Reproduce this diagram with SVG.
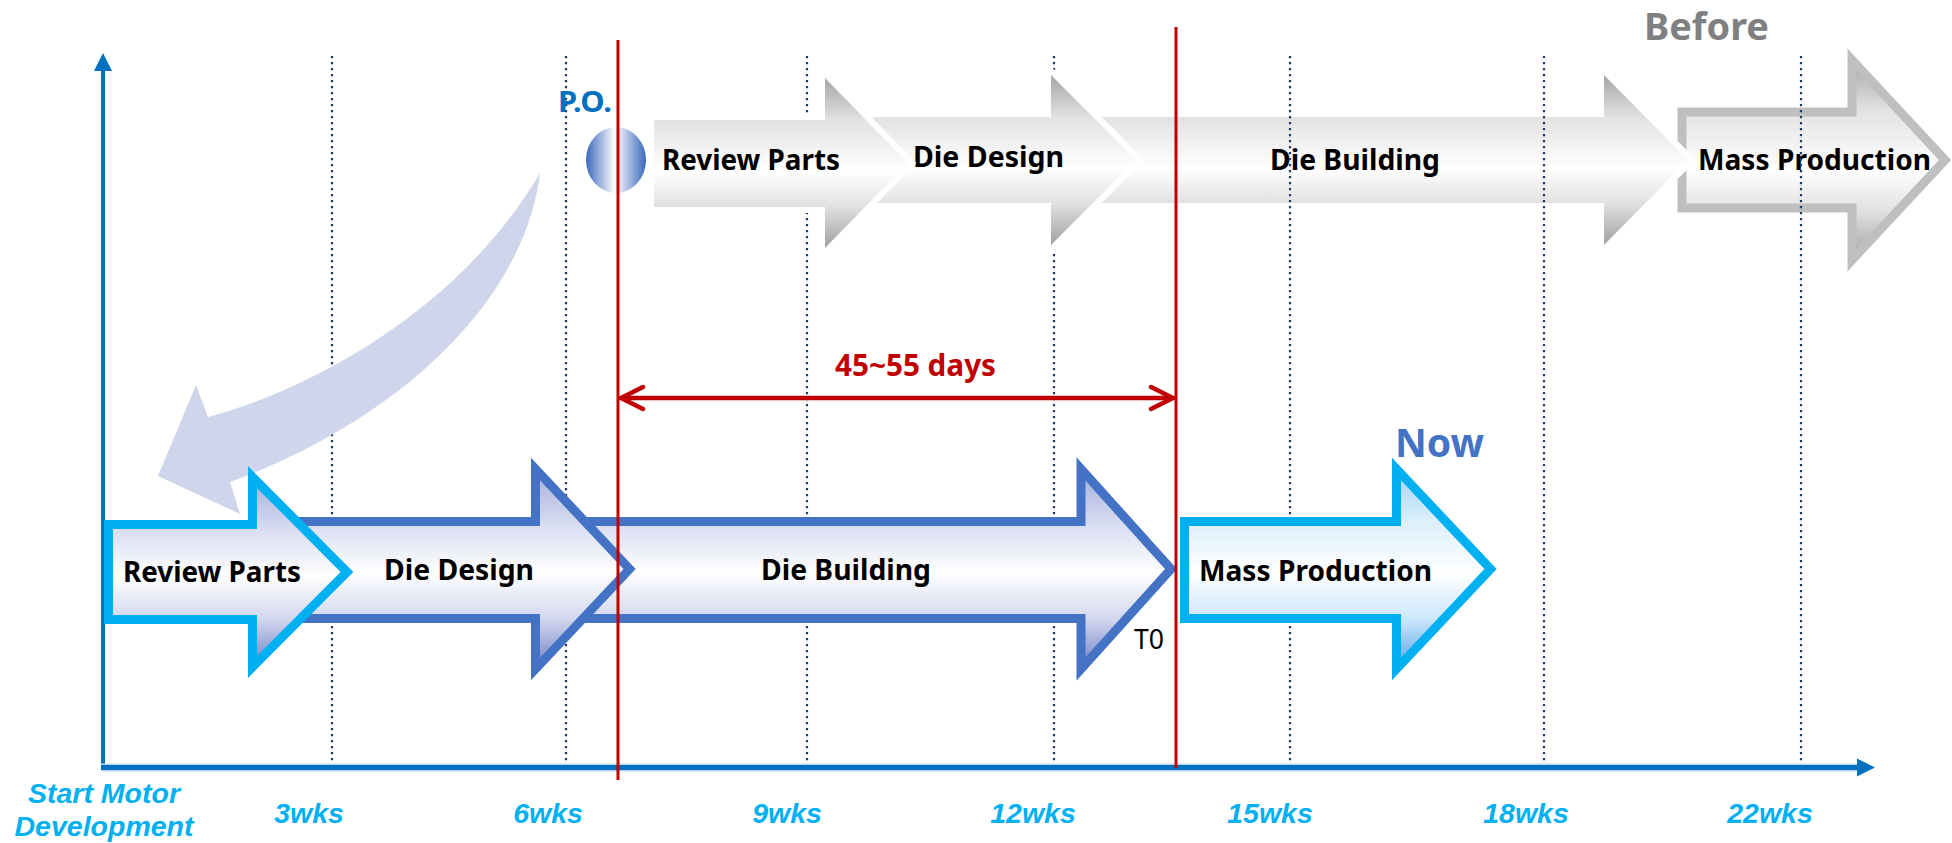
<svg xmlns="http://www.w3.org/2000/svg" width="1952" height="843" viewBox="0 0 1952 843">
  <style>
    .lbl { font-family: "Noto Sans", "Open Sans", "Noto Sans CJK KR", sans-serif; font-weight: 700; font-size: 28px; fill: #000000; }
    .wk { font-family: "Liberation Sans", Arial, sans-serif; font-weight: 700; font-style: italic; font-size: 28.5px; fill: #00B0F0; text-anchor: middle; }
    .grid { stroke: #1F3864; stroke-width: 2.2; stroke-dasharray: 2.2 3.8; fill: none; }
    .gray { fill: url(#gGray); stroke: #FFFFFF; stroke-width: 12; stroke-linejoin: miter; paint-order: stroke; }
    .now { stroke-width: 9; stroke-linejoin: miter; stroke-miterlimit: 10; }
    .red { stroke: #C00000; fill: none; }
  </style>
  <defs>
    <linearGradient id="gGray" x1="0" y1="0" x2="0" y2="1">
      <stop offset="0" stop-color="#A5A5A5"/>
      <stop offset="0.25" stop-color="#E2E2E2"/>
      <stop offset="0.55" stop-color="#FFFFFF"/>
      <stop offset="0.76" stop-color="#E0E0E0"/>
      <stop offset="1" stop-color="#A0A0A0"/>
    </linearGradient>
    <linearGradient id="gLav" x1="0" y1="0" x2="0" y2="1">
      <stop offset="0" stop-color="#A3ADDD"/>
      <stop offset="0.26" stop-color="#D5DAEF"/>
      <stop offset="0.52" stop-color="#FFFFFF"/>
      <stop offset="0.75" stop-color="#D2D7EE"/>
      <stop offset="1" stop-color="#6F7DC5"/>
    </linearGradient>
    <linearGradient id="gSky" x1="0" y1="0" x2="0" y2="1">
      <stop offset="0" stop-color="#9ED3F5"/>
      <stop offset="0.26" stop-color="#DCEFFB"/>
      <stop offset="0.52" stop-color="#FFFFFF"/>
      <stop offset="0.75" stop-color="#CDE7FA"/>
      <stop offset="1" stop-color="#4DA2E4"/>
    </linearGradient>
    <linearGradient id="gPO" x1="0" y1="0" x2="1" y2="0">
      <stop offset="0" stop-color="#3A68BC"/>
      <stop offset="0.48" stop-color="#FFFFFF"/>
      <stop offset="1" stop-color="#3A68BC"/>
    </linearGradient>
    <!-- open chevron head for the duration span -->
    <marker id="chev" viewBox="0 0 30 30" refX="27" refY="15" markerWidth="30" markerHeight="30" markerUnits="userSpaceOnUse" orient="auto-start-reverse">
      <path d="M5,4 L27,15 L5,26" fill="none" stroke="#C00000" stroke-width="4.5" stroke-linecap="round" stroke-linejoin="miter"/>
    </marker>
  </defs>

  <!-- axes -->
  <g id="axes">
    <line x1="103" y1="768" x2="103" y2="68" stroke="#0070C0" stroke-width="4"/>
    <polygon points="103,53 94,71 112,71" fill="#0070C0"/>
    <line x1="101" y1="767.5" x2="1860" y2="767.5" stroke="#BDD7EE" stroke-width="8"/>
    <line x1="101" y1="767.5" x2="1860" y2="767.5" stroke="#0070C0" stroke-width="5"/>
    <polygon points="1875,767.5 1857,758.5 1857,776.5" fill="#0070C0"/>
  </g>

  <!-- "Before" chain, rear part -->
  <g id="before-mass-production">
    <path d="M1682,112 H1852 V60 L1945,160 L1852,260 V208 H1682 Z" fill="url(#gGray)" stroke="#BFBFBF" stroke-width="9" stroke-linejoin="miter" stroke-miterlimit="10"/>
    <text class="lbl" x="1698" y="170" textLength="233" lengthAdjust="spacingAndGlyphs">Mass Production</text>
  </g>
  <g id="before-die-building">
    <path class="gray" d="M1065,117 H1604 V75 L1688,160 L1604,245 V203 H1065 Z"/>
    <text class="lbl" x="1270" y="170" textLength="170" lengthAdjust="spacingAndGlyphs">Die Building</text>
  </g>

  <!-- week grid -->
  <g id="grid">
    <line class="grid" x1="332" y1="56" x2="332" y2="763"/>
    <line class="grid" x1="566" y1="56" x2="566" y2="763"/>
    <line class="grid" x1="807" y1="56" x2="807" y2="763"/>
    <line class="grid" x1="1054" y1="56" x2="1054" y2="763"/>
    <line class="grid" x1="1290" y1="56" x2="1290" y2="763"/>
    <line class="grid" x1="1544" y1="56" x2="1544" y2="763"/>
    <line class="grid" x1="1801" y1="56" x2="1801" y2="763"/>
  </g>

  <!-- "Before" chain, front part -->
  <g id="before-die-design">
    <path class="gray" d="M840,117 H1051 V75 L1136,160 L1051,245 V203 H840 Z"/>
    <text class="lbl" x="913" y="167" textLength="151" lengthAdjust="spacingAndGlyphs">Die Design</text>
  </g>
  <g id="before-review-parts">
    <path class="gray" d="M654,120 H825 V78 L908,163 L825,248 V207 H654 Z"/>
    <text class="lbl" x="662" y="170" textLength="178" lengthAdjust="spacingAndGlyphs">Review Parts</text>
  </g>

  <!-- purchase order marker -->
  <g id="po">
    <ellipse cx="616" cy="160" rx="30" ry="33" fill="url(#gPO)"/>
    <text class="lbl" x="558" y="112" style="fill:#0070C0" textLength="54" lengthAdjust="spacingAndGlyphs">P.O.</text>
  </g>

  <!-- lead time shift -->
  <g id="shift-arrow">
    <path d="M540,173 C525,300 400,420 230,482 L240,514 L158,476 L196,385 L208,417 C310,390 460,310 540,173 Z" fill="#CFD5EA"/>
  </g>

  <!-- "Now" chain -->
  <g id="now-mass-production">
    <path class="now" d="M1184.5,521.5 H1396.5 V469 L1490.5,569 L1396.5,669 V618.5 H1184.5 Z" fill="url(#gSky)" stroke="#00B0F0"/>
    <text class="lbl" x="1199" y="581" textLength="233" lengthAdjust="spacingAndGlyphs">Mass Production</text>
  </g>
  <g id="now-die-building">
    <path class="now" d="M545,521.5 H1081 V469 L1171,569 L1081,669 V618.5 H545 Z" fill="url(#gLav)" stroke="#4472C4"/>
    <text class="lbl" x="761" y="580" textLength="170" lengthAdjust="spacingAndGlyphs">Die Building</text>
    <text x="1134" y="649" font-family="Noto Sans, Open Sans, sans-serif" font-size="27" fill="#000000" textLength="30" lengthAdjust="spacingAndGlyphs">T0</text>
  </g>
  <g id="now-die-design">
    <path class="now" d="M262,521.5 H535.5 V469 L629.5,569 L535.5,669 V618.5 H262 Z" fill="url(#gLav)" stroke="#4472C4"/>
    <text class="lbl" x="384" y="580" textLength="150" lengthAdjust="spacingAndGlyphs">Die Design</text>
  </g>
  <g id="now-review-parts">
    <path class="now" d="M108.5,524.5 H252.5 V477 L347,572 L252.5,667 V619.5 H108.5 Z" fill="url(#gLav)" stroke="#00B0F0"/>
    <text class="lbl" x="123" y="582" textLength="178" lengthAdjust="spacingAndGlyphs">Review Parts</text>
  </g>

  <!-- connectors: tooling window markers -->
  <g id="connectors">
    <line class="red" x1="618" y1="40" x2="618" y2="780" stroke-width="3"/>
    <line class="red" x1="1176" y1="27" x2="1176" y2="768" stroke-width="3"/>
    <line class="red" x1="621" y1="398" x2="1173" y2="398" stroke-width="4.5" marker-start="url(#chev)" marker-end="url(#chev)"/>
  </g>

  <!-- headings -->
  <text class="lbl" x="1644" y="40" style="font-size:37.5px;fill:#808080" textLength="125" lengthAdjust="spacingAndGlyphs">Before</text>
  <text class="lbl" x="1395" y="457" style="font-size:40px;fill:#4472C4" textLength="89" lengthAdjust="spacingAndGlyphs">Now</text>
  <text class="lbl" x="835" y="376" style="font-size:29.5px;fill:#C00000" textLength="161" lengthAdjust="spacingAndGlyphs">45~55 days</text>

  <!-- time scale -->
  <g id="scale">
    <text class="wk" x="104" y="803">Start Motor</text>
    <text class="wk" x="104" y="836">Development</text>
    <text class="wk" x="309" y="823">3wks</text>
    <text class="wk" x="548" y="823">6wks</text>
    <text class="wk" x="787" y="823">9wks</text>
    <text class="wk" x="1033" y="823">12wks</text>
    <text class="wk" x="1270" y="823">15wks</text>
    <text class="wk" x="1526" y="823">18wks</text>
    <text class="wk" x="1770" y="823">22wks</text>
  </g>
</svg>
